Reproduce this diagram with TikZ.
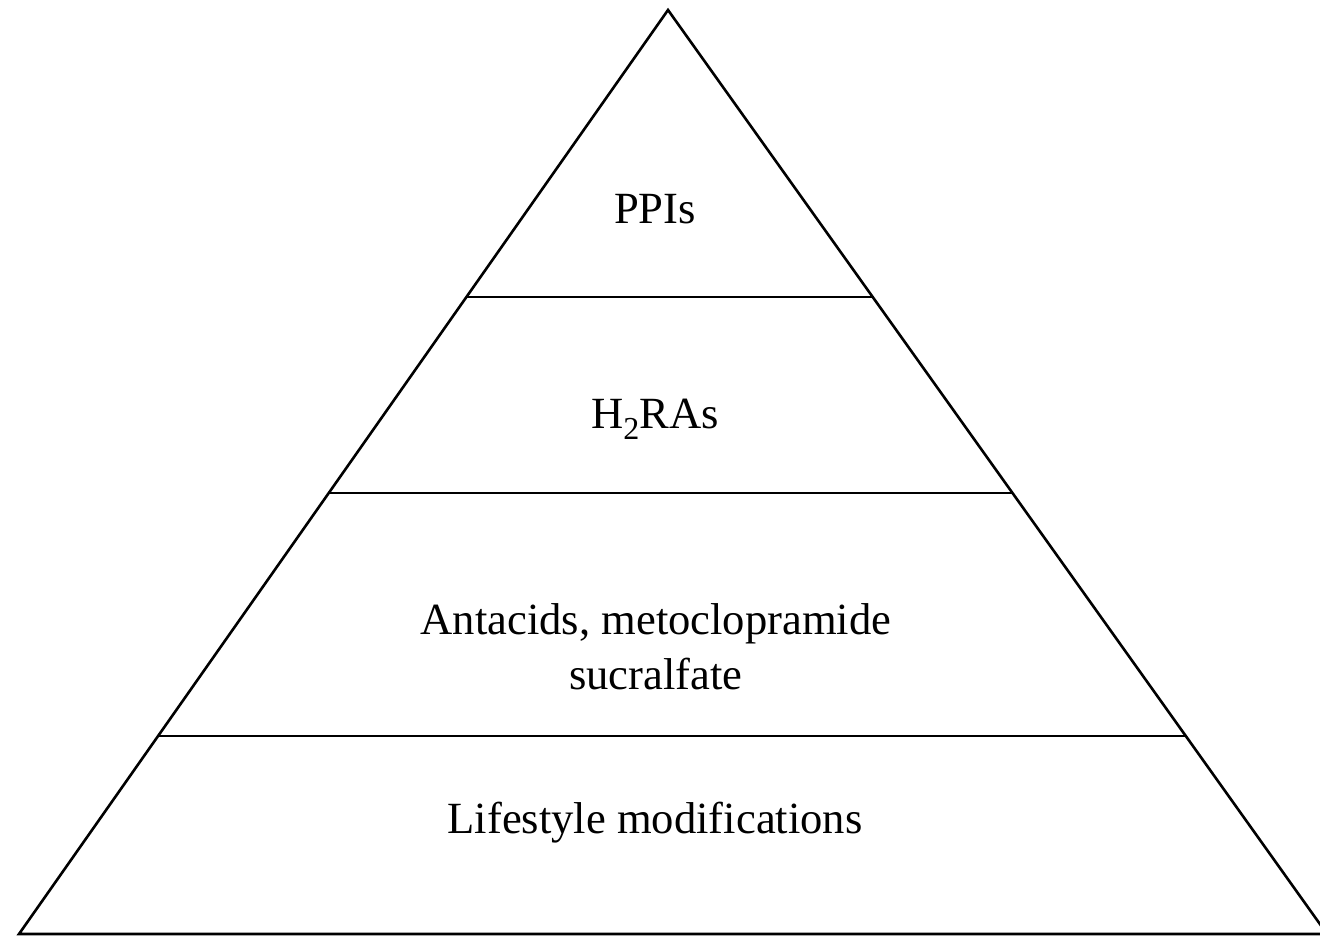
\documentclass[tikz,border=0pt]{standalone}
\usepackage{fontspec}
\setmainfont{Liberation Serif}
\usetikzlibrary{calc}

\begin{document}
\begin{tikzpicture}[
  x=0.5pt, y=-0.5pt,
  lab/.style={font=\fontsize{22.3}{27.5}\selectfont, align=center, inner sep=0pt, anchor=base},
  edge/.style={line width=1.3pt, line join=miter}
]
\clip (0,0) rectangle (1320,936);
\coordinate (apex) at (668,10);
\coordinate (bl) at (19,934);
\coordinate (br) at (1327,934);
\draw[edge] (bl) -- (apex) -- (br) -- cycle;
% level separators
\foreach \t/\n in {0.3106/a, 0.5227/b, 0.7857/c}
  \draw[edge] ($(apex)!\t!(bl)$) coordinate (l\n) -- ($(apex)!\t!(br)$) coordinate (r\n);
\node[lab] (ppi) at (655,223) {PPIs};
\node[lab] (h2ra) at (655,428) {H\raisebox{-0.55ex}{\fontsize{16}{16}\selectfont 2}RAs};
\node[lab] (antac) at (656,689) {Antacids, metoclopramide\\sucralfate};
\node[lab] (life) at (655,833) {Lifestyle modifications};
\end{tikzpicture}
\end{document}
